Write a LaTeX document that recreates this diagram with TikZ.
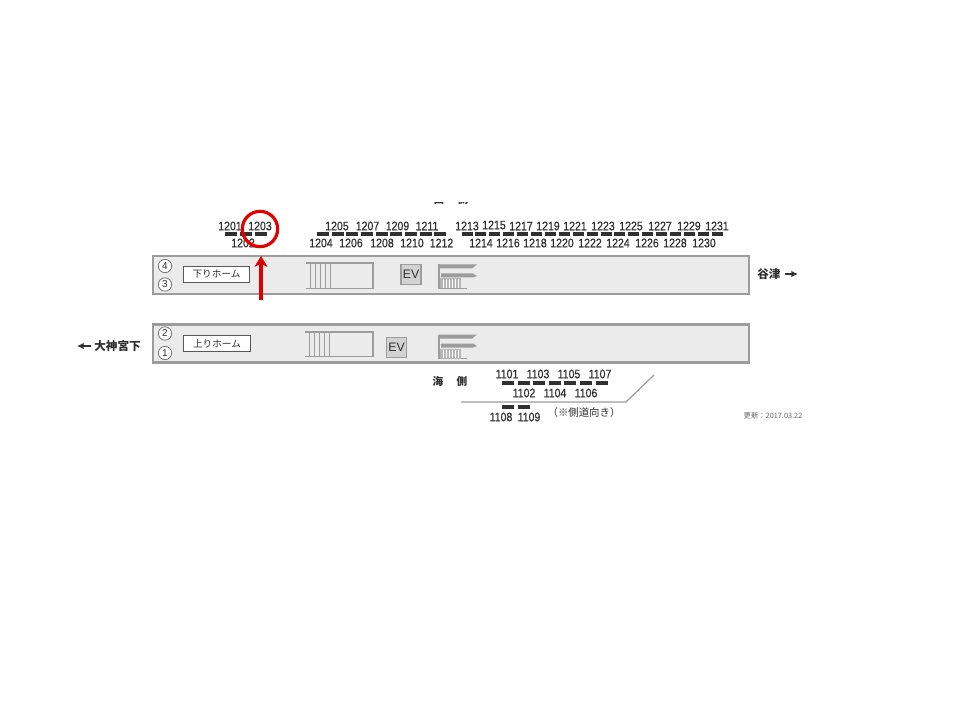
\documentclass[tikz,border=0pt]{standalone}
\usetikzlibrary{arrows.meta}
\usepackage{fontspec}
\setmainfont{Liberation Sans}
\newfontfamily\numfont[FakeStretch=0.86,FakeBold=0.6]{Liberation Sans}
\newfontfamily\cjk{Noto Sans CJK JP}
\definecolor{ink}{HTML}{303030}
\definecolor{edge}{HTML}{9C9C9C}
\definecolor{plat}{HTML}{EBEBEB}
\definecolor{evfill}{HTML}{D2D2D2}
\definecolor{redmark}{HTML}{E00000}
\tikzset{
  x=0.75pt,y=-0.75pt,
  num/.style={font=\numfont\fontsize{9.2}{9}\selectfont,text=ink,inner sep=0pt},
  jp/.style={font=\cjk\fontsize{7.8}{8}\selectfont,text=ink,inner sep=0pt},
  jpb/.style={font=\cjk\fontsize{8.7}{9}\selectfont\bfseries,text=ink,inner sep=0pt},
  jps/.style={font=\cjk\fontsize{8}{8}\selectfont\bfseries,text=ink,inner sep=0pt},
  platform/.style={draw=edge,fill=plat,line width=1.6pt,rectangle,minimum width=447.5pt,minimum height=28.5pt,inner sep=0pt},
  namebox/.style={draw=ink!80,fill=white,line width=0.8pt,rectangle,minimum width=50pt,minimum height=12.5pt,inner sep=0pt,font=\cjk\fontsize{7.2}{8}\selectfont,text=ink},
  evbox/.style={draw=edge,fill=evfill,line width=1.2pt,rectangle,minimum width=15pt,minimum height=15pt,inner sep=0pt,font=\fontsize{9.2}{10}\selectfont,text=ink},
  ringnum/.style={draw=ink!65,fill=white,line width=0.6pt,circle,minimum size=10pt,inner sep=0pt,font=\fontsize{7.5}{8}\selectfont,text=ink},
  plan/.style={draw=edge,line width=1.2pt},
  thin plan/.style={draw=edge,line width=0.7pt},
  stopbar/.style={draw=ink,line width=2.7pt},
}
\newcommand{\escal}[2]{%
  \begin{scope}[shift={(#1,#2)}]
    \fill[edge] (0,0) -- (38,0) -- (33,4) -- (0,4) -- cycle;
    \fill[edge] (2,9) -- (34,9) -- (38,11.5) -- (34,13) -- (2,13) -- cycle;
    \draw[plan] (0,0) -- (0,24) -- (28,24);
    \fill[edge!75] (1,14) rectangle (22,24);
    \foreach \v in {4,7,10,13,16,19} \draw[white,line width=0.5pt] (\v,15) -- (\v,23.5);
  \end{scope}}
\newcommand{\stairs}[4]{% x0, top, bottom, first vertical
  \draw[plan] (#1,#2) -- (373,#2) -- (373,#3) -- (#1,#3);
  \foreach \k in {0,5,10,15,20} \draw[thin plan] (#4+\k,#2) -- (#4+\k,#3);
}
\begin{document}
\begin{tikzpicture}
\useasboundingbox (0,0) rectangle (960,720);
\fill[white] (0,0) rectangle (960,720);

% clipped heading at the top
\begin{scope}
  \clip (420,203) rectangle (480,208);
  \node[jps] (yama) at (439,199.5) {山};
  \node[jps] (yamagawa) at (463,199.5) {側};
\end{scope}

% platforms
\node[platform] (upperplat) at (451,275) {};
\node[platform] (lowerplat) at (451,343.5) {};

\node[ringnum] (r4) at (165,266) {4};
\node[ringnum] (r3) at (165,284.5) {3};
\node[ringnum] (r2) at (165,333.5) {2};
\node[ringnum] (r1) at (165,353) {1};

\node[namebox] (down) at (216.5,274.5) {下りホーム};
\node[namebox] (up) at (217,343.5) {上りホーム};

\stairs{306}{263}{288.5}{310}
\stairs{305}{332}{356.5}{309}

\node[evbox] (ev1) at (411,274.5) {EV};
\node[evbox] (ev2) at (396.5,347.5) {EV};

\escal{439}{264.5}
\escal{439}{334.5}

% stop labels
\foreach \n/\x/\y in {1201/230/226,1203/260/226,1202/243/243,
  1205/337/226,1207/367.5/226,1209/397.5/226,1211/427/226,
  1204/321/243,1206/351/243,1208/382/243,1210/412/243,1212/441.5/243,
  1213/467/226,1215/494/225,1217/521/226,1219/548/226,1221/575/226,1223/603/226,1225/631/226,1227/660/226,1229/689/226,1231/717/226,
  1214/481/243,1216/508/243,1218/535/243,1220/562/243,1222/590/243,1224/618/243,1226/647/243,1228/675/243,1230/704/243,
  1101/507/374,1103/538/374,1105/569/374,1107/600/374,
  1102/524/393,1104/555/393,1106/586/393,
  1108/501/417,1109/529/417}
  \node[num] (s\n) at (\x,\y) {\n};

% stop dashes
\foreach \x in {225,240,255} \draw[stopbar] (\x,234) -- +(12,0);
\foreach \i in {0,...,8} \draw[stopbar] (317+\i*14.65,234) -- +(12,0);
\foreach \i in {0,...,18} \draw[stopbar] (461.5+\i*13.9,234) -- +(11,0);
\foreach \i in {0,...,6} \draw[stopbar] (502+\i*15.6,383) -- +(12,0);
\foreach \x in {502,518} \draw[stopbar] (\x,407) -- +(11.5,0);

% direction labels
\node[jpb,anchor=west] (yatsu) at (757,274) {谷津};
\coordinate (yatsuA) at (785,274);
\coordinate (yatsuB) at (798,274);
\draw[ink,line width=1.2pt,-{Latex[length=5pt,width=5pt]}] (yatsuA) -- (yatsuB);
\node[jpb,anchor=east] (ogami) at (141,346) {大神宮下};
\coordinate (ogamiA) at (91,346);
\coordinate (ogamiB) at (77,346);
\draw[ink,line width=1.2pt,-{Latex[length=5pt,width=5pt]}] (ogamiA) -- (ogamiB);

% sea side
\node[jps] (umi) at (438,381.5) {海};
\node[jps] (gawa) at (462,381.5) {側};
\coordinate (roadA) at (461,402);
\coordinate (roadB) at (626,402);
\coordinate (roadC) at (654,375);
\draw[edge,line width=0.9pt] (roadA) -- (roadB) -- (roadC);
\node[jp] (note) at (584,413) {（※側道向き）};
\node[inner sep=0pt,text=ink!75,font=\cjk\fontsize{5.5}{6}\selectfont] (upd) at (773,416) {更新：2017.03.22};

% red marker
\node[draw=redmark,line width=2.4pt,circle,minimum size=26.5pt,inner sep=0pt] (ring) at (260,229) {};
\coordinate (arrowfoot) at (261,300);
\coordinate (arrowhead) at (261,256);
\draw[redmark,line width=2.3pt,-{Stealth[length=8pt,width=9.5pt,inset=2pt]}] (arrowfoot) -- (arrowhead);
\end{tikzpicture}
\end{document}
